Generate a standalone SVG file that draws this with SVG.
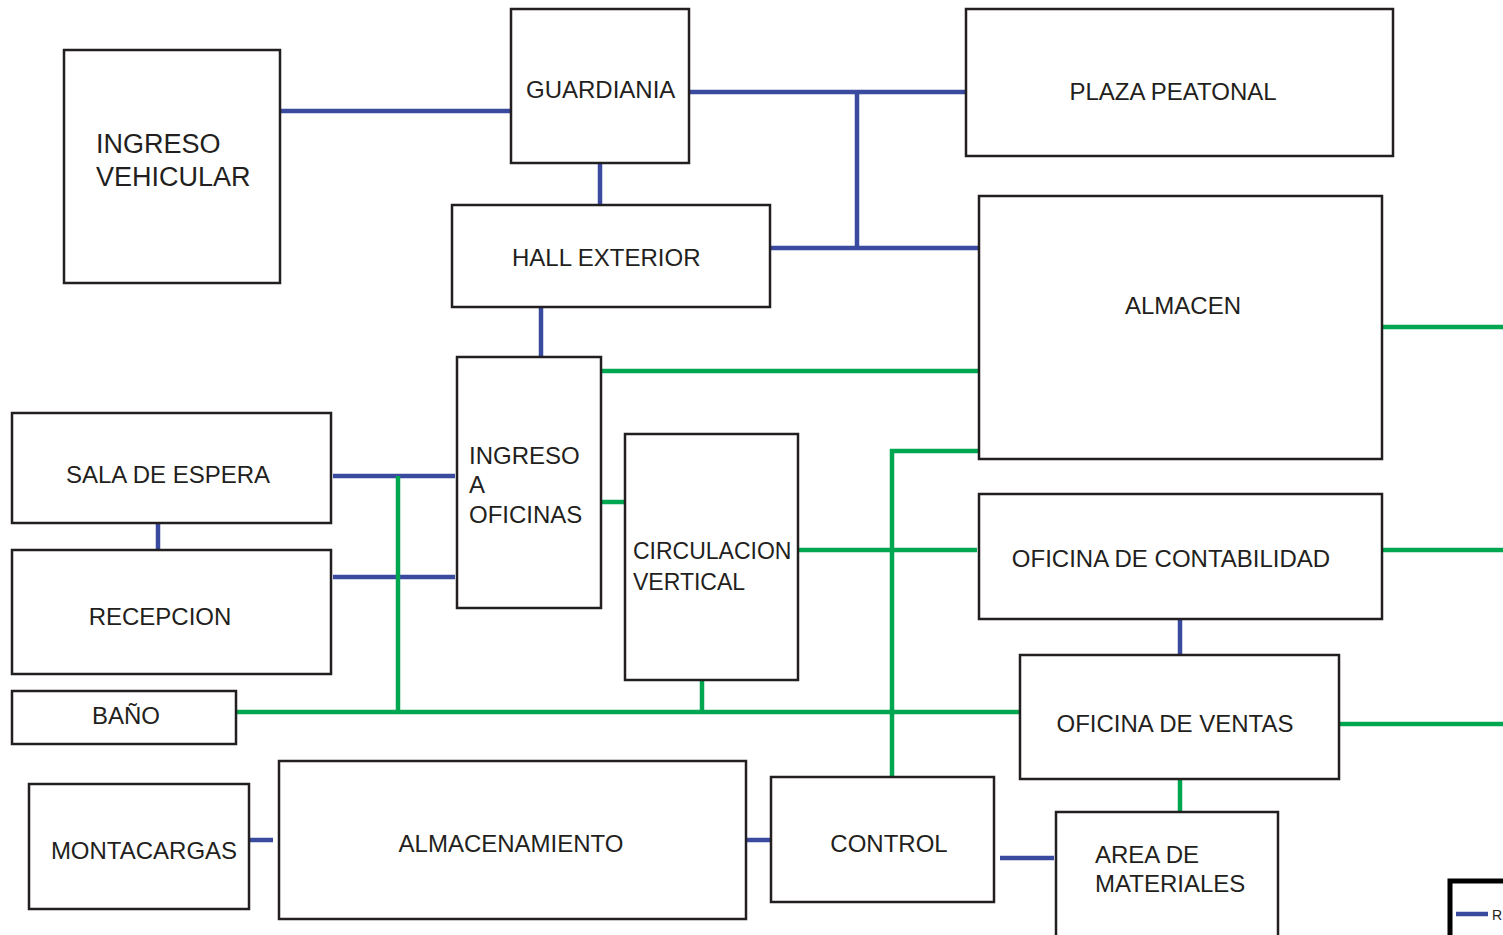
<svg xmlns="http://www.w3.org/2000/svg" width="1503" height="935" viewBox="0 0 1503 935">
<style>
.box{fill:#fff;stroke:#231f20;stroke-width:2.5}
.t{font-family:"Liberation Sans",Arial,sans-serif;font-size:24px;fill:#231f20}
.c{text-anchor:middle}
.b{stroke:#3a4a9e;stroke-width:4.5;fill:none}
.g{stroke:#00a650;stroke-width:4.5;fill:none}
</style>
<rect width="1503" height="935" fill="#fff"/>
<g id="connectors">
<path class="b" d="M280,111H517"/>
<path class="b" d="M689,92H966"/>
<path class="b" d="M857,92V248"/>
<path class="b" d="M770,248H979"/>
<path class="b" d="M600,163V205"/>
<path class="b" d="M541,307V357"/>
<path class="b" d="M333,476H455"/>
<path class="b" d="M333,577H455"/>
<path class="b" d="M158,523V550"/>
<path class="b" d="M249,840H273"/>
<path class="b" d="M746,840H771"/>
<path class="b" d="M1000,858H1054"/>
<path class="b" d="M1180,614V655"/>
<path class="g" d="M601,371H979"/>
<path class="g" d="M979,451H892V778"/>
<path class="g" d="M798,550H977"/>
<path class="g" d="M601,502H625"/>
<path class="g" d="M236,712H1020"/>
<path class="g" d="M398,476V712"/>
<path class="g" d="M702,680V712"/>
<path class="g" d="M1382,327H1503"/>
<path class="g" d="M1383,550H1503"/>
<path class="g" d="M1339,724H1503"/>
<path class="g" d="M1180,779V812"/>
</g>
<g id="ingreso-vehicular"><rect class="box" x="64" y="50" width="216" height="233"/><text class="t" x="96" y="153" style="font-size:27px">INGRESO</text><text class="t" x="96" y="186" style="font-size:27px">VEHICULAR</text></g>
<g id="guardiania"><rect class="box" x="511" y="9" width="178" height="154"/><text class="t" x="526" y="98">GUARDIANIA</text></g>
<g id="plaza-peatonal"><rect class="box" x="966" y="9" width="427" height="147"/><text class="t c" x="1173" y="100">PLAZA PEATONAL</text></g>
<g id="hall-exterior"><rect class="box" x="452" y="205" width="318" height="102"/><text class="t" x="512" y="266">HALL EXTERIOR</text></g>
<g id="almacen"><rect class="box" x="979" y="196" width="403" height="263"/><text class="t c" x="1183" y="314">ALMACEN</text></g>
<g id="ingreso-oficinas"><rect class="box" x="457" y="357" width="144" height="251"/><text class="t" x="469" y="464">INGRESO</text><text class="t" x="469" y="493">A</text><text class="t" x="469" y="523">OFICINAS</text></g>
<g id="sala-espera"><rect class="box" x="12" y="413" width="319" height="110"/><text class="t c" x="168" y="483">SALA DE ESPERA</text></g>
<g id="recepcion"><rect class="box" x="12" y="550" width="319" height="124"/><text class="t c" x="160" y="625">RECEPCION</text></g>
<g id="bano"><rect class="box" x="12" y="691" width="224" height="53"/><text class="t c" x="126" y="724">BAÑO</text></g>
<g id="circulacion-vertical"><rect class="box" x="625" y="434" width="173" height="246"/><text class="t" x="633" y="559" style="font-size:23px">CIRCULACION</text><text class="t" x="633" y="590" style="font-size:23px">VERTICAL</text></g>
<g id="oficina-contabilidad"><rect class="box" x="979" y="494" width="403" height="125"/><text class="t c" x="1171" y="567">OFICINA DE CONTABILIDAD</text></g>
<g id="oficina-ventas"><rect class="box" x="1020" y="655" width="319" height="124"/><text class="t c" x="1175" y="732">OFICINA DE VENTAS</text></g>
<g id="montacargas"><rect class="box" x="29" y="784" width="220" height="125"/><text class="t c" x="144" y="859">MONTACARGAS</text></g>
<g id="almacenamiento"><rect class="box" x="279" y="761" width="467" height="158"/><text class="t c" x="511" y="852">ALMACENAMIENTO</text></g>
<g id="control"><rect class="box" x="771" y="777" width="223" height="125"/><text class="t c" x="889" y="852">CONTROL</text></g>
<g id="area-materiales"><rect class="box" x="1056" y="812" width="222" height="140"/><text class="t" x="1095" y="863">AREA DE</text><text class="t" x="1095" y="892">MATERIALES</text></g>
<g id="legend"><rect x="1450" y="881" width="80" height="80" fill="#fff" stroke="#000" stroke-width="5"/><path class="b" d="M1456,914H1488"/><text class="t" x="1492" y="920" style="font-size:14px">R</text></g>
</svg>
